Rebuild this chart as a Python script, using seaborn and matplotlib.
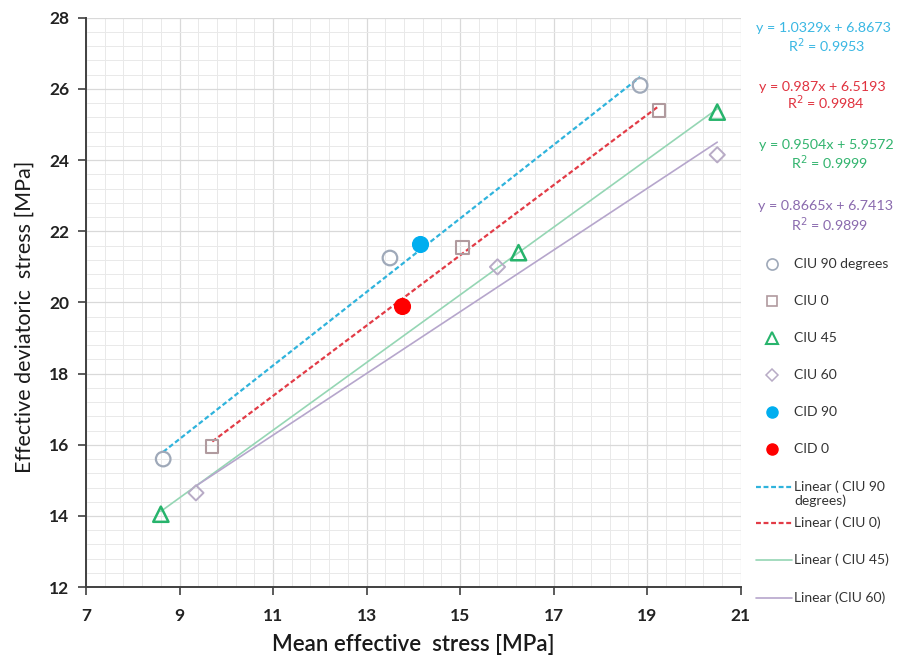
import numpy as np
import pandas as pd
import matplotlib
matplotlib.use("Agg")
import matplotlib.pyplot as plt
import seaborn as sns
from matplotlib.lines import Line2D

# ---- data ----
ciu90_x = [8.65, 13.5, 18.85]
ciu90_y = [15.6, 21.25, 26.1]
ciu0_x = [9.7, 15.05, 19.25]
ciu0_y = [15.95, 21.55, 25.4]
ciu45_x = [8.6, 16.25, 20.5]
ciu45_y = [14.05, 21.4, 25.35]
ciu60_x = [9.35, 15.8, 20.5]
ciu60_y = [14.65, 21.0, 24.15]
cid90_x = [14.15]
cid90_y = [21.65]
cid0_x = [13.75]
cid0_y = [19.9]

fit_slopes = [1.0329, 0.987, 0.9504, 0.8665]
fit_intercepts = [6.8673, 6.5193, 5.9572, 6.7413]
fit_r2 = ["0.9953", "0.9984", "0.9999", "0.9899"]
fit_labels = ["Linear ( CIU 90\ndegrees)", "Linear ( CIU 0)", "Linear ( CIU 45)", "Linear (CIU 60)"]

x_ticks = [7, 9, 11, 13, 15, 17, 19, 21]
y_ticks = [12, 14, 16, 18, 20, 22, 24, 26, 28]

sns.set_theme(style="white")
plt.rcParams['font.family'] = ['Lato', 'DejaVu Sans']

fig = plt.figure(figsize=(9.01, 6.59), dpi=100)
ax = fig.add_axes([0.0955, 0.109, 0.7265, 0.864])

ax.set_xlim(7, 21)
ax.set_ylim(12, 28)
ax.set_xticks(x_ticks)
ax.set_yticks(y_ticks)
ax.set_xticks(np.arange(7, 21.01, 0.4), minor=True)
ax.set_yticks(np.arange(12, 28.01, 0.4), minor=True)
ax.grid(True, which='major', color='#d9d9d9', lw=0.9)
ax.grid(True, which='minor', color='#e9e9e9', lw=0.7)
ax.set_axisbelow(True)
ax.tick_params(which='minor', length=0)
ax.tick_params(which='major', direction='out', length=6, width=1.2, color='#404040',
               labelsize=12.5, labelcolor='#222222', left=True, bottom=True)
ax.tick_params(axis='x', pad=9)
ax.tick_params(axis='y', pad=6)
for lab in ax.get_xticklabels() + ax.get_yticklabels():
    lab.set_fontweight('bold')
for s in ['top', 'right']:
    ax.spines[s].set_visible(False)
for s in ['left', 'bottom']:
    ax.spines[s].set_color('#404040')
    ax.spines[s].set_linewidth(1.4)

series_x = [ciu90_x + cid90_x, ciu0_x + cid0_x, ciu45_x, ciu60_x]
line_colors = ['#2fb3dc', '#e23b46', '#95d6b4', '#b6a6cc']
line_styles = [(0, (2.2, 1.2)), (0, (2.2, 1.2)), '-', '-']
line_widths = [1.6, 1.6, 1.2, 1.2]
for xs, m, b, c, ls, lw in zip(series_x, fit_slopes, fit_intercepts, line_colors, line_styles, line_widths):
    xr = np.array([min(xs), max(xs)])
    df_line = pd.DataFrame({'x': xr, 'y': m * xr + b})
    sns.lineplot(data=df_line, x='x', y='y', ax=ax, color=c, linestyle=ls, lw=lw, zorder=2)

sns.scatterplot(x=ciu90_x, y=ciu90_y, ax=ax, marker='o', s=110, facecolor='none',
                edgecolor='#9fa9b9', linewidth=1.6, zorder=3)
sns.scatterplot(x=ciu0_x, y=ciu0_y, ax=ax, marker='s', s=80, facecolor='none',
                edgecolor='#b09a9e', linewidth=1.5, zorder=3)
sns.scatterplot(x=ciu45_x, y=ciu45_y, ax=ax, marker='^', s=120, facecolor='none',
                edgecolor='#27b46c', linewidth=1.8, zorder=3)
sns.scatterplot(x=ciu60_x, y=ciu60_y, ax=ax, marker='D', s=60, facecolor='none',
                edgecolor='#b8abc6', linewidth=1.4, zorder=3)
sns.scatterplot(x=cid90_x, y=cid90_y, ax=ax, marker='o', s=130, color='#00aeef',
                edgecolor='#00aeef', zorder=4)
sns.scatterplot(x=cid0_x, y=cid0_y, ax=ax, marker='o', s=130, color='#ff0000',
                edgecolor='#ff0000', zorder=4)

ax.set_xlabel('Mean effective  stress [MPa]', fontsize=16, fontweight='semibold',
              color='#1a1a1a')
ax.set_ylabel('Effective deviatoric  stress [MPa]', fontsize=15.5, color='#1a1a1a')
ax.xaxis.set_label_coords(0.5, -0.082)
ax.yaxis.set_label_coords(-0.078, 0.475)

W, H = 901, 659
def fx(px):
    return px / W
def fy(py):
    return 1 - py / H

# equations
eq_colors = ['#3ab7e3', '#e0323f', '#32b46e', '#8a6aae']
eq_y = [(28, 46), (87, 103), (145, 163), (206, 225)]
eq_cx = [823, 822, 826, 826]
for m, b, r2, c, (y1, y2), cx in zip(fit_slopes, fit_intercepts, fit_r2, eq_colors, eq_y, eq_cx):
    fig.text(fx(cx), fy(y1), f"y = {m}x + {b}", color=c, fontsize=10.3, ha='center', va='center')
    fig.text(fx(cx + 4), fy(y2), f"R$^2$ = {r2}", color=c, fontsize=10.3, ha='center', va='center')

# legend (drawn manually)
leg_text_x = 794
mk_x = 772
leg_items = [
    ('CIU 90 degrees', 264, dict(marker='o', ms=8, mfc='none', mec='#9fa9b9', mew=1.2)),
    ('CIU 0', 301, dict(marker='s', ms=7, mfc='none', mec='#b09a9e', mew=1.2)),
    ('CIU 45', 338, dict(marker='^', ms=8, mfc='none', mec='#27b46c', mew=1.5)),
    ('CIU 60', 375, dict(marker='D', ms=6, mfc='none', mec='#b8abc6', mew=1.1)),
    ('CID 90', 412, dict(marker='o', ms=8, mfc='#00aeef', mec='#00aeef')),
    ('CID 0', 449, dict(marker='o', ms=8, mfc='#ff0000', mec='#ff0000')),
]
for lab, py, kw in leg_items:
    fig.add_artist(Line2D([fx(mk_x)], [fy(py)], transform=fig.transFigure, ls='none', **kw))
    fig.text(fx(leg_text_x), fy(py), lab, fontsize=10, color='#333333', va='center', ha='left')

line_leg_y = [487, 523, 560, 598]
for lab, py, c, ls, lw in zip(fit_labels, line_leg_y, line_colors, line_styles, line_widths):
    fig.add_artist(Line2D([fx(756), fx(792)], [fy(py), fy(py)], transform=fig.transFigure,
                          color=c, ls=ls, lw=lw))
    fig.text(fx(leg_text_x), fy(py - 7), lab, fontsize=10, color='#333333', va='top', ha='left',
             linespacing=1.2)

fig.savefig('out.png', dpi=100)
